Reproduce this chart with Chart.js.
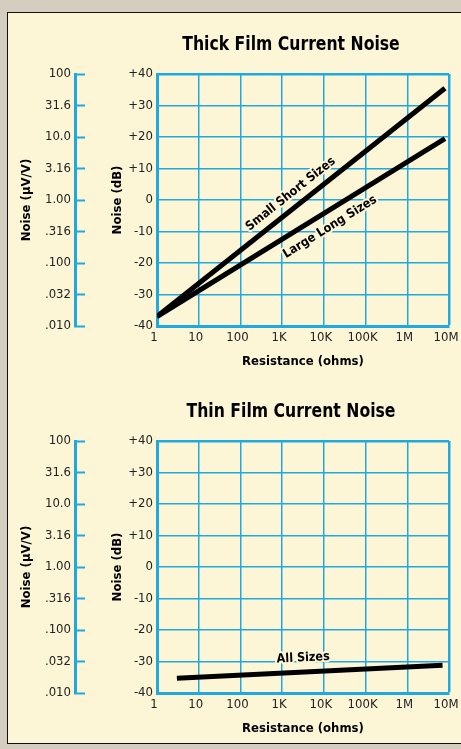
<!DOCTYPE html>
<html>
<head>
<meta charset="utf-8">
<title>Thick / Thin Film Current Noise</title>
<script src="https://cdn.jsdelivr.net/npm/chart.js@4.4.0/dist/chart.umd.min.js"></script>
<style>
    html, body { margin: 0; padding: 0; }
    body {
        width: 461px; height: 749px; position: relative; overflow: hidden;
        background: #d5cdbf;
        font-family: 'Liberation Sans Narrow', 'DejaVu Sans Condensed', sans-serif;
    }
    .panel {
        position: absolute; left: 7px; top: 12px; width: 480px; height: 730px;
        background: #fcf6d7; border: 1px solid #111;
    }
    .chart-box { position: absolute; left: 0; width: 461px; height: 374px; }
    .chart-title {
        position: absolute; left: 141px; width: 300px; top: 31px;
        text-align: center; font-weight: bold; font-size: 20px; line-height: 24px;
        color: #000; white-space: nowrap;
        transform: scaleX(0.87); transform-origin: center;
    }
</style>
</head>
<body>
<div class="panel"></div>
<div class="chart-box" style="top:0">
    <canvas id="thickChart" width="461" height="374"></canvas>
    <div class="chart-title">Thick Film Current Noise</div>
</div>
<div class="chart-box" style="top:367px">
    <canvas id="thinChart" width="461" height="374"></canvas>
    <div class="chart-title">Thin Film Current Noise</div>
</div>
<script>
// axis ticks
const resistanceTicks = [1, 10, 100, 1e3, 1e4, 1e5, 1e6, 1e7];
const resistanceLabels = ['1', '10', '100', '1K', '10K', '100K', '1M', '10M'];
const dbTicks = [-40, -30, -20, -10, 0, 10, 20, 30, 40];
const dbLabels = ['-40', '-30', '-20', '-10', '0', '+10', '+20', '+30', '+40'];
const uvLabels = ['.010', '.032', '.100', '.316', '1.00', '3.16', '10.0', '31.6', '100'];

// thick film series (ohms, dB)
const thickSmallOhms = [1, 8e6];
const thickSmallDb = [-37, 35.5];
const thickLargeOhms = [1, 8e6];
const thickLargeDb = [-37, 19.5];

// thin film series
const thinAllOhms = [3, 7e6];
const thinAllDb = [-35.3, -31.2];

// curve labels: text, anchor (ohms, dB); slope taken from the dataset with same index
const thickLabelText = ['Small Short Sizes', 'Large Long Sizes'];
const thickLabelOhms = [1600, 14000];
const thickLabelDb = [1.9, -8.6];
const thinLabelText = ['All Sizes'];
const thinLabelOhms = [3200];
const thinLabelDb = [-28.9];

const FONT = "'Liberation Sans Narrow', 'DejaVu Sans Condensed', sans-serif";
const BLUE = '#1ea9e1';
const CREAM = '#fcf6d7';

Chart.defaults.font.family = FONT;
Chart.defaults.color = '#222';

const toPoints = (xs, ys) => xs.map((x, i) => ({ x: x, y: ys[i] }));

const curveLabels = {
    id: 'curveLabels',
    beforeDatasetsDraw(chart, args, opts) {
        const { ctx, scales } = chart;
        opts.text.forEach((text, i) => {
            const pts = chart.getDatasetMeta(i).data;
            const a = pts[0], b = pts[pts.length - 1];
            const angle = Math.atan2(b.y - a.y, b.x - a.x);
            const px = scales.x.getPixelForValue(opts.ohms[i]);
            const py = scales.y.getPixelForValue(opts.db[i]);
            ctx.save();
            ctx.translate(px, py);
            ctx.rotate(angle);
            ctx.font = 'bold 12.5px ' + FONT;
            ctx.textAlign = 'center';
            ctx.textBaseline = 'middle';
            ctx.lineJoin = 'round';
            ctx.lineWidth = 4;
            ctx.strokeStyle = CREAM;
            ctx.strokeText(text, 0, 0);
            ctx.fillStyle = '#000';
            ctx.fillText(text, 0, 0);
            ctx.restore();
        });
    }
};

function lineDataset(xs, ys) {
    return {
        data: toPoints(xs, ys),
        borderColor: '#000',
        borderWidth: 5,
        borderCapStyle: 'butt',
        pointRadius: 0,
        tension: 0
    };
}

function fixedTicks(values) {
    return scale => { scale.ticks = values.map(v => ({ value: v })); };
}

function buildChart(id, datasets, labels) {
    return new Chart(document.getElementById(id), {
        type: 'line',
        data: { datasets: datasets },
        plugins: [curveLabels],
        options: {
            responsive: false,
            animation: false,
            devicePixelRatio: 1,
            layout: { padding: { left: 7, top: 74, right: 12, bottom: 0 } },
            plugins: {
                legend: { display: false },
                tooltip: { enabled: false },
                curveLabels: labels
            },
            scales: {
                x: {
                    type: 'logarithmic',
                    min: 1,
                    max: 1e7,
                    afterBuildTicks: fixedTicks(resistanceTicks),
                    afterFit: s => { s.height = 48; s.paddingLeft = 0; s.paddingRight = 0; },
                    ticks: {
                        callback: (v, i) => resistanceLabels[i],
                        padding: 4, maxRotation: 0, autoSkip: false, labelOffset: -3,
                        font: { size: 13 }
                    },
                    grid: {
                        color: BLUE,
                        lineWidth: c => (c.tick && c.tick.value === 1e7 ? 2.5 : 1.5),
                        drawTicks: false
                    },
                    border: { color: BLUE, width: 3 },
                    title: {
                        display: true, text: 'Resistance (ohms)', color: '#000',
                        font: { size: 13, weight: 'bold' }, padding: { top: 0, bottom: 5 }
                    }
                },
                y: {
                    type: 'linear',
                    position: 'left',
                    weight: 0,
                    min: -40,
                    max: 40,
                    afterBuildTicks: fixedTicks(dbTicks),
                    afterFit: s => { s.width = 82; },
                    ticks: { callback: (v, i) => dbLabels[i], padding: 4, font: { size: 13 } },
                    grid: {
                        color: BLUE,
                        lineWidth: c => (c.tick && c.tick.value === 40 ? 2.5 : 1.5),
                        drawTicks: false
                    },
                    border: { color: BLUE, width: 3 },
                    title: {
                        display: true, text: 'Noise (dB)', color: '#000',
                        font: { size: 13, weight: 'bold' }, padding: { top: 35, bottom: 0 }
                    }
                },
                yuv: {
                    type: 'linear',
                    position: 'left',
                    weight: 1,
                    min: -40,
                    max: 40,
                    afterBuildTicks: fixedTicks(dbTicks),
                    afterFit: s => { s.width = 68; },
                    ticks: { callback: (v, i) => uvLabels[i], padding: 14, font: { size: 13 } },
                    grid: {
                        drawOnChartArea: false,
                        drawTicks: true,
                        tickLength: -10,
                        tickColor: BLUE,
                        tickWidth: 2
                    },
                    border: { color: BLUE, width: 3 },
                    title: {
                        display: true, text: 'Noise (μV/V)', color: '#000',
                        font: { size: 13, weight: 'bold' }, padding: { top: 12, bottom: 0 }
                    }
                }
            }
        }
    });
}

buildChart('thickChart',
    [lineDataset(thickSmallOhms, thickSmallDb), lineDataset(thickLargeOhms, thickLargeDb)],
    { text: thickLabelText, ohms: thickLabelOhms, db: thickLabelDb });

buildChart('thinChart',
    [lineDataset(thinAllOhms, thinAllDb)],
    { text: thinLabelText, ohms: thinLabelOhms, db: thinLabelDb });
</script>
</body>
</html>
